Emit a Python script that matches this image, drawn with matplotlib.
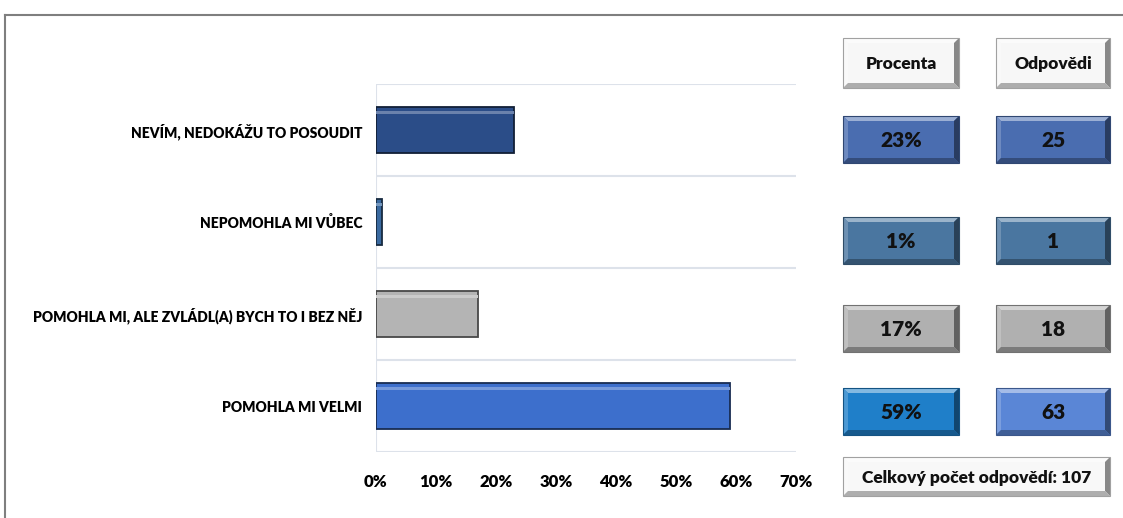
import numpy as np
import matplotlib.pyplot as plt
from matplotlib.patches import Rectangle, Polygon
from matplotlib.colors import to_rgb

# data (bottom to top)
categories = ["POMOHLA MI VELMI",
              "POMOHLA MI, ALE ZVLÁDL(A) BYCH TO I BEZ NĚJ",
              "NEPOMOHLA MI VŮBEC",
              "NEVÍM, NEDOKÁŽU TO POSOUDIT"]
percents = [59, 17, 1, 23]
answers = [63, 18, 1, 25]
total = 107
bar_colors = ["#3d6fcc", "#b4b4b4", "#3a6aa0", "#2b4d88"]
pct_box_colors = ["#1f7fc9", "#b0b0b0", "#4a76a0", "#4a6db0"]
ans_box_colors = ["#5a86d6", "#b0b0b0", "#4a76a0", "#4a6db0"]
xticks = [0, 10, 20, 30, 40, 50, 60, 70]

plt.rcParams['font.family'] = ['Lato', 'DejaVu Sans']
WEIGHT = 'heavy'

W, H = 1123, 518
fig = plt.figure(figsize=(W / 100, H / 100), dpi=100)


def shade(c, f):
    r = np.array(to_rgb(c))
    if f > 0:
        return tuple(r + (1 - r) * f)
    return tuple(r * (1 + f))


# chart axes
ax = fig.add_axes([376 / W, (H - 452) / H, 420 / W, (452 - 84) / H])
y = np.arange(len(categories))
ax.barh(y, percents, height=0.5, color=bar_colors,
        edgecolor=[shade(c, -0.6) for c in bar_colors], linewidth=1.3, zorder=3)
ax.barh(y + 0.19, percents, height=0.03,
        color=[shade(c, 0.3) for c in bar_colors], linewidth=0, zorder=4)
ax.set_xlim(0, 70)
ax.set_ylim(-0.5, len(categories) - 0.5)
for g in np.arange(-0.5, len(categories), 1.0):
    ax.axhline(g, color="#dde2ea", lw=1.5, zorder=1)
ax.axvline(0, color="#dde2ea", lw=1.5, zorder=1)
for s in ax.spines.values():
    s.set_visible(False)
ax.set_xticks(xticks)
ax.set_xticklabels([f"{t}%" for t in xticks], fontsize=12, fontweight=WEIGHT)
ax.set_yticks(y)
ax.set_yticklabels(categories, fontsize=10, fontweight=WEIGHT)
ax.tick_params(axis='y', length=0, pad=10)
ax.tick_params(axis='x', length=0, pad=16)

# overlay in pixel coordinates for the frame and boxes
ov = fig.add_axes([0, 0, 1, 1])
ov.set_xlim(0, W)
ov.set_ylim(H, 0)
ov.axis('off')
ov.set_zorder(-1)
ov.plot([5, W], [15, 15], color="#7f7f7f", lw=1.5)
ov.plot([5, 5], [15, H], color="#7f7f7f", lw=1.5)


def bevel_box(x0, y0, w, h, color, text, size, b=5):
    x1, y1 = x0 + w, y0 + h
    ov.add_patch(Rectangle((x0, y0), w, h, facecolor=color, edgecolor="none"))
    ov.add_patch(Polygon([(x0, y0), (x1, y0), (x1 - b, y0 + b), (x0 + b, y0 + b)],
                         facecolor=shade(color, 0.45), edgecolor="none"))
    ov.add_patch(Polygon([(x0, y0), (x0 + b, y0 + b), (x0 + b, y1 - b), (x0, y1)],
                         facecolor=shade(color, 0.2), edgecolor="none"))
    ov.add_patch(Polygon([(x1, y0), (x1, y1), (x1 - b, y1 - b), (x1 - b, y0 + b)],
                         facecolor=shade(color, -0.45), edgecolor="none"))
    ov.add_patch(Polygon([(x0, y1), (x1, y1), (x1 - b, y1 - b), (x0 + b, y1 - b)],
                         facecolor=shade(color, -0.3), edgecolor="none"))
    ov.add_patch(Rectangle((x0, y0), w, h, facecolor="none",
                           edgecolor=shade(color, -0.35), lw=0.8))
    ov.text((x0 + x1) / 2, (y0 + y1) / 2 + 1, text, ha='center', va='center',
            fontsize=size, fontweight=WEIGHT, color="#111111")


bevel_box(843, 38, 116, 50, "#f7f7f7", "Procenta", 12.5)
bevel_box(996, 38, 114, 50, "#f7f7f7", "Odpovědi", 12.5)

box_tops = [388, 305, 217, 116]
for i in range(len(categories)):
    bevel_box(843, box_tops[i], 116, 47, pct_box_colors[i], f"{percents[i]}%", 15)
    bevel_box(996, box_tops[i], 114, 47, ans_box_colors[i], f"{answers[i]}", 15)

bevel_box(843, 457, 267, 39, "#f8f8f8", f"Celkový počet odpovědí: {total}", 12.5)

fig.savefig("out.png", dpi=100)
